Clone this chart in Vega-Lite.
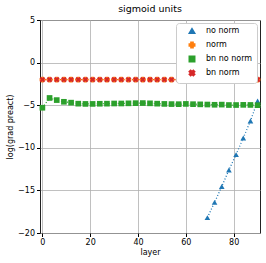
{
  "$schema": "https://vega.github.io/schema/vega-lite/v6.json",
  "width": 266,
  "height": 263,
  "autosize": {"type": "fit", "contains": "padding"},
  "padding": {"left": 6, "right": 6, "top": 3, "bottom": 6},
  "title": {"text": "sigmoid units", "fontSize": 9.5, "fontWeight": "normal", "font": "DejaVu Sans", "color": "#000", "offset": 3},
  "config": {
    "font": "DejaVu Sans",
    "view": {"stroke": "#222", "strokeWidth": 1},
    "axis": {"labelFont": "DejaVu Sans", "titleFont": "DejaVu Sans", "labelFontSize": 8, "titleFontSize": 8, "titleFontWeight": "normal", "labelColor": "#000", "titleColor": "#000", "gridColor": "#b0b0b0", "gridWidth": 0.8, "tickColor": "#000", "tickSize": 3.5, "domain": false, "labelPadding": 2},
    "legend": {"orient": "top-right", "offset": 3, "fillColor": "white", "strokeColor": "#cccccc", "cornerRadius": 3, "padding": 4, "labelFont": "DejaVu Sans", "labelFontSize": 8, "labelColor": "#000", "symbolSize": 30, "rowPadding": 2, "symbolOffset": 8, "labelOffset": 10}
  },
  "data": {"values": [
    {"s": "no norm", "x": 69, "y": -18.2},
    {"s": "no norm", "x": 72, "y": -16.4},
    {"s": "no norm", "x": 75, "y": -14.55},
    {"s": "no norm", "x": 78, "y": -12.6},
    {"s": "no norm", "x": 81, "y": -10.8},
    {"s": "no norm", "x": 84, "y": -8.85},
    {"s": "no norm", "x": 87, "y": -6.85},
    {"s": "no norm", "x": 90, "y": -4.5},
    {"s": "norm", "x": 0, "y": -2}, {"s": "norm", "x": 3, "y": -2}, {"s": "norm", "x": 6, "y": -2}, {"s": "norm", "x": 9, "y": -2}, {"s": "norm", "x": 12, "y": -2}, {"s": "norm", "x": 15, "y": -2}, {"s": "norm", "x": 18, "y": -2}, {"s": "norm", "x": 21, "y": -2}, {"s": "norm", "x": 24, "y": -2}, {"s": "norm", "x": 27, "y": -2}, {"s": "norm", "x": 30, "y": -2}, {"s": "norm", "x": 33, "y": -2}, {"s": "norm", "x": 36, "y": -2}, {"s": "norm", "x": 39, "y": -2}, {"s": "norm", "x": 42, "y": -2}, {"s": "norm", "x": 45, "y": -2}, {"s": "norm", "x": 48, "y": -2}, {"s": "norm", "x": 51, "y": -2}, {"s": "norm", "x": 54, "y": -2}, {"s": "norm", "x": 57, "y": -2}, {"s": "norm", "x": 60, "y": -2}, {"s": "norm", "x": 63, "y": -2}, {"s": "norm", "x": 66, "y": -2}, {"s": "norm", "x": 69, "y": -2}, {"s": "norm", "x": 72, "y": -2}, {"s": "norm", "x": 75, "y": -2}, {"s": "norm", "x": 78, "y": -2}, {"s": "norm", "x": 81, "y": -2}, {"s": "norm", "x": 84, "y": -2}, {"s": "norm", "x": 87, "y": -2}, {"s": "norm", "x": 90, "y": -2},
    {"s": "bn no norm", "x": 0, "y": -5.3},
    {"s": "bn no norm", "x": 3, "y": -4.15},
    {"s": "bn no norm", "x": 6, "y": -4.4},
    {"s": "bn no norm", "x": 9, "y": -4.6},
    {"s": "bn no norm", "x": 12, "y": -4.7},
    {"s": "bn no norm", "x": 15, "y": -4.82},
    {"s": "bn no norm", "x": 18, "y": -4.85},
    {"s": "bn no norm", "x": 21, "y": -4.85},
    {"s": "bn no norm", "x": 24, "y": -4.83},
    {"s": "bn no norm", "x": 27, "y": -4.82},
    {"s": "bn no norm", "x": 30, "y": -4.8},
    {"s": "bn no norm", "x": 33, "y": -4.8},
    {"s": "bn no norm", "x": 36, "y": -4.78},
    {"s": "bn no norm", "x": 39, "y": -4.76},
    {"s": "bn no norm", "x": 42, "y": -4.75},
    {"s": "bn no norm", "x": 45, "y": -4.78},
    {"s": "bn no norm", "x": 48, "y": -4.82},
    {"s": "bn no norm", "x": 51, "y": -4.85},
    {"s": "bn no norm", "x": 54, "y": -4.87},
    {"s": "bn no norm", "x": 57, "y": -4.88},
    {"s": "bn no norm", "x": 60, "y": -4.85},
    {"s": "bn no norm", "x": 63, "y": -4.88},
    {"s": "bn no norm", "x": 66, "y": -4.9},
    {"s": "bn no norm", "x": 69, "y": -4.92},
    {"s": "bn no norm", "x": 72, "y": -4.95},
    {"s": "bn no norm", "x": 75, "y": -4.93},
    {"s": "bn no norm", "x": 78, "y": -4.98},
    {"s": "bn no norm", "x": 81, "y": -4.98},
    {"s": "bn no norm", "x": 84, "y": -4.96},
    {"s": "bn no norm", "x": 87, "y": -4.97},
    {"s": "bn no norm", "x": 90, "y": -5.0},
    {"s": "bn norm", "x": 0, "y": -2}, {"s": "bn norm", "x": 3, "y": -2}, {"s": "bn norm", "x": 6, "y": -2}, {"s": "bn norm", "x": 9, "y": -2}, {"s": "bn norm", "x": 12, "y": -2}, {"s": "bn norm", "x": 15, "y": -2}, {"s": "bn norm", "x": 18, "y": -2}, {"s": "bn norm", "x": 21, "y": -2}, {"s": "bn norm", "x": 24, "y": -2}, {"s": "bn norm", "x": 27, "y": -2}, {"s": "bn norm", "x": 30, "y": -2}, {"s": "bn norm", "x": 33, "y": -2}, {"s": "bn norm", "x": 36, "y": -2}, {"s": "bn norm", "x": 39, "y": -2}, {"s": "bn norm", "x": 42, "y": -2}, {"s": "bn norm", "x": 45, "y": -2}, {"s": "bn norm", "x": 48, "y": -2}, {"s": "bn norm", "x": 51, "y": -2}, {"s": "bn norm", "x": 54, "y": -2}, {"s": "bn norm", "x": 57, "y": -2}, {"s": "bn norm", "x": 60, "y": -2}, {"s": "bn norm", "x": 63, "y": -2}, {"s": "bn norm", "x": 66, "y": -2}, {"s": "bn norm", "x": 69, "y": -2}, {"s": "bn norm", "x": 72, "y": -2}, {"s": "bn norm", "x": 75, "y": -2}, {"s": "bn norm", "x": 78, "y": -2}, {"s": "bn norm", "x": 81, "y": -2}, {"s": "bn norm", "x": 84, "y": -2}, {"s": "bn norm", "x": 87, "y": -2}, {"s": "bn norm", "x": 90, "y": -2}
  ]},
  "encoding": {
    "x": {"field": "x", "type": "quantitative", "title": "layer", "scale": {"domain": [-1, 91], "nice": false, "zero": false}, "axis": {"values": [0, 20, 40, 60, 80], "titlePadding": 2}},
    "y": {"field": "y", "type": "quantitative", "title": "log(grad preact)", "scale": {"domain": [-20, 5], "nice": false}, "axis": {"values": [-20, -15, -10, -5, 0, 5], "titlePadding": 3}},
    "color": {"field": "s", "type": "nominal", "title": null, "sort": ["no norm", "norm", "bn no norm", "bn norm"], "scale": {"domain": ["no norm", "norm", "bn no norm", "bn norm"], "range": ["#1f77b4", "#ff7f0e", "#2ca02c", "#d62728"]}},
    "order": {"field": "x", "type": "quantitative"}
  },
  "layer": [
    {"mark": {"type": "line", "strokeDash": [1, 2], "strokeWidth": 1.3}},
    {"mark": {"type": "point", "filled": true, "opacity": 1, "size": 32},
     "encoding": {"shape": {"field": "s", "type": "nominal", "title": null, "sort": ["no norm", "norm", "bn no norm", "bn norm"], "scale": {"domain": ["no norm", "norm", "bn no norm", "bn norm"], "range": ["triangle-up", "cross", "square", "M-1,-0.5L-0.5,-1L0,-0.5L0.5,-1L1,-0.5L0.5,0L1,0.5L0.5,1L0,0.5L-0.5,1L-1,0.5L-0.5,0Z"]}}}}
  ]
}
